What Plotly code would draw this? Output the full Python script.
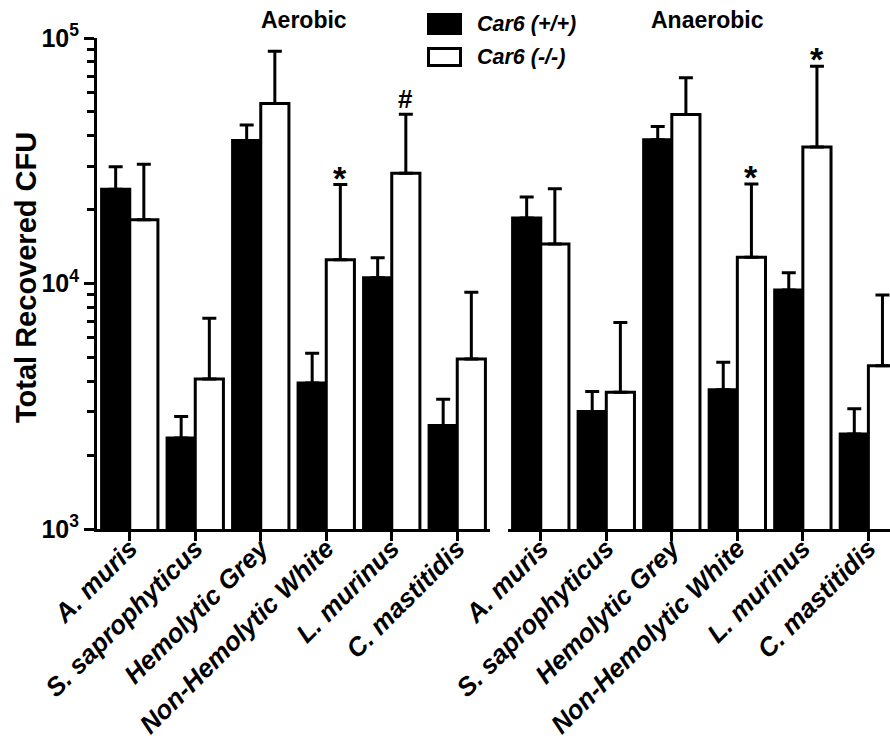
import math
import plotly.graph_objects as go

# ---------------- data ----------------
categories = ["A. muris", "S. saprophyticus", "Hemolytic Grey",
              "Non-Hemolytic White", "L. murinus", "C. mastitidis"]

aer_wt = [24200, 2350, 38200, 3930, 10560, 2640]
aer_wt_err = [5700, 520, 6000, 1270, 2170, 740]
aer_ko = [18200, 4080, 54100, 12500, 28100, 4930]
aer_ko_err = [12400, 3140, 34200, 12800, 20800, 4280]

ana_wt = [18500, 3010, 38500, 3690, 9410, 2440]
ana_wt_err = [4000, 620, 5100, 1090, 1650, 650]
ana_ko = [14500, 3610, 48800, 12800, 36000, 4620]
ana_ko_err = [9800, 3320, 20000, 12600, 40700, 4360]

aer_sig = ["", "", "", "*", "#", ""]
ana_sig = ["", "", "", "*", "*", ""]

ytick_vals = [1e3, 1e4, 1e5]
ytick_text = ["10<sup>3</sup>", "10<sup>4</sup>", "10<sup>5</sup>"]
minor_vals = [m * 10 ** e for e in (3, 4) for m in range(2, 10)]

legend_names = ["Car6 (+/+)", "Car6 (-/-)"]
panel_titles = ["Aerobic", "Anaerobic"]
y_title = "Total Recovered CFU"

# ---------------- layout helpers ----------------
W, H = 890, 747
L, R, T, B = 97, 0, 38, 218
PW, PH = W - L - R, H - T - B
FONT = "Liberation Sans, Arial, sans-serif"


def px(x):
    return (x - L) / PW


def py(y):
    return (H - B - y) / PH


fig = go.Figure()

panels = [
    (aer_wt, aer_wt_err, aer_ko, aer_ko_err, "x", "y"),
    (ana_wt, ana_wt_err, ana_ko, ana_ko_err, "x2", "y2"),
]
for wt, wte, ko, koe, xa, ya in panels:
    for vals, errs, fill, nm in ((wt, wte, "black", legend_names[0]),
                                 (ko, koe, "white", legend_names[1])):
        fig.add_trace(go.Bar(
            x=categories, y=vals, name=nm, showlegend=False,
            xaxis=xa, yaxis=ya,
            marker=dict(color=fill, line=dict(color="black", width=3)),
            error_y=dict(type="data", symmetric=False, array=errs,
                         arrayminus=[0] * len(errs), color="black",
                         thickness=3, width=7),
        ))

axis_common = dict(
    type="category", showline=True, linecolor="black", linewidth=3,
    ticks="outside", ticklen=9, tickwidth=3, tickcolor="black",
    tickangle=-45, showgrid=False, zeroline=False, ticklabelstandoff=-18,
    tickfont=dict(family=FONT, size=26, color="black", weight="bold", style="italic"),
    tickvals=categories, ticktext=categories,
)

fig.update_layout(
    width=W, height=H,
    margin=dict(l=L, r=R, t=T, b=B, autoexpand=False),
    paper_bgcolor="white", plot_bgcolor="white",
    barmode="group", bargap=0.14, bargroupgap=0,
    showlegend=False,
    xaxis=dict(domain=[0, px(490)], range=[-0.5, 5.5], anchor="y", **axis_common),
    xaxis2=dict(domain=[px(508), 1], range=[-0.5, 5.33], anchor="y2", **axis_common),
    yaxis=dict(
        type="log", range=[3, 5], domain=[0, 1], anchor="x",
        showline=True, linecolor="black", linewidth=3,
        ticks="outside", ticklen=10, tickwidth=3, tickcolor="black",
        tickvals=ytick_vals, ticktext=ytick_text, showgrid=False, zeroline=False,
        tickfont=dict(family=FONT, size=25, color="black", weight="bold"),
        minor=dict(tickvals=minor_vals, ticks="outside", ticklen=7,
                   tickwidth=2.5, tickcolor="black", showgrid=False),
    ),
    yaxis2=dict(
        type="log", range=[3, 5], domain=[0, 1], anchor="x2", matches="y",
        showline=False, ticks="", showticklabels=False, showgrid=False, zeroline=False,
    ),
)

annotations = []
# significance markers above knockout error bars
sig_size = {"*": 34, "#": 26}
sig_shift = {"*": -14, "#": -2}
for sigs, ko, koe, xr, yr in ((aer_sig, aer_ko, aer_ko_err, "x", "y"),
                              (ana_sig, ana_ko, ana_ko_err, "x2", "y2")):
    for i, s in enumerate(sigs):
        if s:
            annotations.append(dict(
                x=categories[i], y=math.log10(ko[i] + koe[i]), xref=xr, yref=yr,
                xshift=14, yshift=sig_shift[s], yanchor="bottom", xanchor="center",
                text=s, showarrow=False,
                font=dict(family=FONT, size=sig_size[s], color="black", weight="bold"),
            ))

# panel titles
for title, cx in zip(panel_titles, (303.5, 707.5)):
    annotations.append(dict(
        x=px(cx), y=py(20), xref="paper", yref="paper", text=title,
        showarrow=False, xanchor="center", yanchor="middle",
        font=dict(family=FONT, size=23, color="black", weight="bold"),
    ))

# y-axis title
annotations.append(dict(
    x=px(26), y=py(278), xref="paper", yref="paper", text=y_title, textangle=-90,
    showarrow=False, xanchor="center", yanchor="middle",
    font=dict(family=FONT, size=29, color="black", weight="bold"),
))

# legend (swatches + labels)
shapes = []
for (y0, y1), fill, nm in (((14.5, 33.5), "black", legend_names[0]),
                           ((48.5, 65.5), "white", legend_names[1])):
    shapes.append(dict(type="rect", xref="paper", yref="paper",
                       x0=px(428.5), x1=px(460.5), y0=py(y1), y1=py(y0),
                       fillcolor=fill, line=dict(color="black", width=3)))
    annotations.append(dict(
        x=px(475), y=py((y0 + y1) / 2), xref="paper", yref="paper", text=nm,
        showarrow=False, xanchor="left", yanchor="middle",
        font=dict(family=FONT, size=21.5, color="black", weight="bold", style="italic"),
    ))

fig.update_layout(annotations=annotations, shapes=shapes)

fig.write_html("out.html", config={"displayModeBar": False},
               post_script="document.body.style.margin='0';document.body.style.padding='0';")
